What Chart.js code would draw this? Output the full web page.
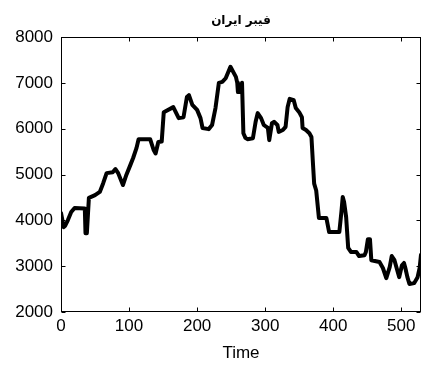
<!DOCTYPE html>
<html>
<head>
<meta charset="utf-8">
<script src="https://cdn.jsdelivr.net/npm/chart.js@4/dist/chart.umd.min.js"></script>
<style>
  html, body { margin: 0; padding: 0; background: #fff; }
  #wrap { width: 422px; height: 367px; }
</style>
</head>
<body>
<div id="wrap"><canvas id="grafico"></canvas></div>
<script>
// serie temporal (indice, valor)
const tempos = [0, 4, 6, 10, 15, 20, 35, 36, 38, 41, 50, 57, 62, 67, 76, 80, 84, 91, 96, 102,
  106, 111, 114, 131, 136, 139, 143, 148, 151, 165, 173, 180, 185, 188, 193, 200, 205, 208, 217, 222,
  227, 232, 237, 242, 249, 257, 259, 260, 264, 266, 268, 271, 274, 282, 286, 289, 294, 298, 304, 306,
  310, 313, 318, 320, 326, 330, 333, 336, 342, 345, 350, 354, 355, 360, 365, 368, 370, 372, 375, 379,
  390, 394, 409, 412, 414, 416, 419, 422, 426, 434, 438, 446, 448, 451, 454, 456, 468, 473, 478, 483,
  486, 490, 494, 497, 501, 504, 506, 509, 512, 519, 524, 527, 529];
const valores = [4160, 3850, 3880, 4000, 4180, 4270, 4260, 3720, 3720, 4490, 4550, 4620, 4810, 5030, 5050, 5120, 5030, 4770, 4990, 5210,
  5360, 5580, 5770, 5770, 5540, 5460, 5710, 5720, 6360, 6470, 6230, 6250, 6690, 6730, 6520, 6410, 6230, 6015, 5990, 6080,
  6450, 7000, 7020, 7100, 7350, 7130, 7000, 6800, 6800, 7000, 5900, 5800, 5770, 5790, 6150, 6340, 6230, 6080, 6015, 5750,
  6120, 6150, 6080, 5930, 5970, 6040, 6470, 6650, 6620, 6450, 6360, 6250, 6015, 5970, 5900, 5820, 5300, 4800, 4650, 4050,
  4050, 3745, 3745, 4180, 4510, 4400, 4070, 3400, 3310, 3310, 3220, 3240, 3310, 3590, 3590, 3130, 3090, 2960, 2740, 2980,
  3220, 3130, 2915, 2760, 3020, 3070, 2960, 2760, 2610, 2630, 2760, 2960, 3250];

const eixoX = { min: 0, max: 529, passo: 100 };
const eixoY = { min: 2000, max: 8000, passo: 1000 };
const titulo = 'فیبر ایران';
const rotuloX = 'Time';

const fonteNum = { family: '"Liberation Sans", Arial, sans-serif', size: 17 };

// moldura fechada com marcas para dentro nos quatro lados
const moldura = {
  id: 'moldura',
  afterDatasetsDraw(chart) {
    const { ctx, chartArea: a, scales: { x, y } } = chart;
    const L = Math.round(a.left) + 0.5, R = Math.round(a.right) - 0.5;
    const T = Math.round(a.top) + 0.5, B = Math.round(a.bottom) - 0.5;
    const tam = 4;
    ctx.save();
    ctx.strokeStyle = '#000';
    ctx.lineWidth = 1;
    ctx.strokeRect(L, T, R - L, B - T);
    ctx.beginPath();
    x.ticks.forEach(t => {
      const px = Math.round(x.getPixelForValue(t.value)) + 0.5;
      ctx.moveTo(px, B); ctx.lineTo(px, B - tam);
      ctx.moveTo(px, T); ctx.lineTo(px, T + tam);
    });
    y.ticks.forEach(t => {
      const py = Math.round(y.getPixelForValue(t.value)) + 0.5;
      ctx.moveTo(L, py); ctx.lineTo(L + tam, py);
      ctx.moveTo(R, py); ctx.lineTo(R - tam, py);
    });
    ctx.stroke();
    ctx.restore();
  }
};

new Chart(document.getElementById('grafico'), {
  type: 'line',
  data: {
    datasets: [{
      data: tempos.map((t, i) => ({ x: t, y: valores[i] })),
      borderColor: '#000',
      borderWidth: 4,
      borderJoinStyle: 'round',
      borderCapStyle: 'round',
      pointRadius: 0,
      tension: 0,
      fill: false
    }]
  },
  options: {
    responsive: true,
    maintainAspectRatio: false,
    animation: false,
    layout: { padding: { left: 0, right: 1, top: 0, bottom: 0 } },
    plugins: {
      legend: { display: false },
      tooltip: { enabled: false },
      title: {
        display: true,
        fullSize: false,
        text: titulo,
        color: '#000',
        font: { family: '"DejaVu Sans", sans-serif', size: 12, weight: 'bold', lineHeight: 1.2 },
        padding: { top: 14, bottom: 8.6 }
      }
    },
    scales: {
      x: {
        type: 'linear',
        min: eixoX.min,
        max: eixoX.max,
        afterFit: s => { s.height = 55; },
        afterBuildTicks: s => {
          s.ticks = [];
          for (let v = eixoX.min; v <= eixoX.max; v += eixoX.passo) s.ticks.push({ value: v });
        },
        grid: { display: false, drawTicks: false },
        border: { display: false },
        ticks: { color: '#000', font: fonteNum, padding: 4, maxRotation: 0, callback: v => String(v) },
        title: { display: true, text: rotuloX, color: '#000', font: fonteNum, padding: { top: 0, bottom: 3 } }
      },
      y: {
        type: 'linear',
        min: eixoY.min,
        max: eixoY.max,
        afterFit: s => { s.width = 61; },
        afterBuildTicks: s => {
          s.ticks = [];
          for (let v = eixoY.min; v <= eixoY.max; v += eixoY.passo) s.ticks.push({ value: v });
        },
        grid: { display: false, drawTicks: false },
        border: { display: false },
        ticks: { color: '#000', font: fonteNum, padding: 8, callback: v => String(v) }
      }
    }
  },
  plugins: [moldura]
});
</script>
</body>
</html>
